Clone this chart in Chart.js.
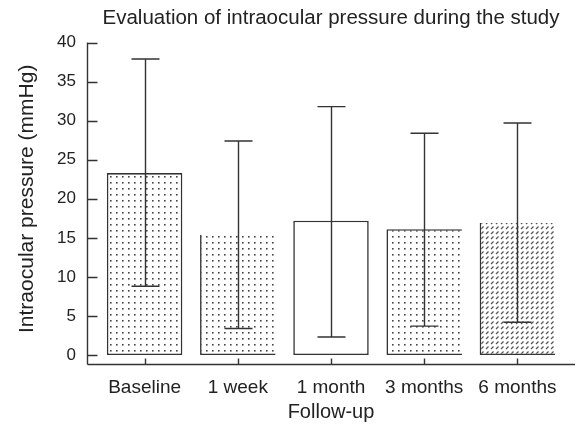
<!DOCTYPE html>
<html>
<head>
<meta charset="utf-8">
<script src="https://cdn.jsdelivr.net/npm/chart.js@4.4.0/dist/chart.umd.min.js"></script>
<style>
  html, body { margin: 0; padding: 0; background: #fff; }
  #wrap { width: 579px; height: 427px; }
</style>
</head>
<body>
<div id="wrap"><canvas id="chart" width="579" height="427"></canvas></div>
<script>
(function () {
  'use strict';

  // --- Data ---
  var categories = ['Baseline', '1 week', '1 month', '3 months', '6 months'];
  var means = [23.3, 15.4, 17.2, 16.1, 16.9];
  var errLow = [8.8, 3.4, 2.3, 3.7, 4.2];
  var errHigh = [37.9, 27.4, 31.8, 28.4, 29.7];
  var yTicks = [0, 5, 10, 15, 20, 25, 30, 35, 40];

  var ink = '#333';
  var font = "'Liberation Sans', Arial, sans-serif";

  // --- Fill patterns ---
  function dotPattern() {
    var c = document.createElement('canvas');
    c.width = 6; c.height = 6;
    var g = c.getContext('2d');
    g.fillStyle = '#fff';
    g.fillRect(0, 0, 6, 6);
    g.fillStyle = '#444';
    g.fillRect(2, 2, 1.6, 1.6);
    return g.createPattern(c, 'repeat');
  }

  function dashPattern() {
    var c = document.createElement('canvas');
    c.width = 5; c.height = 5;
    var g = c.getContext('2d');
    g.fillStyle = '#fff';
    g.fillRect(0, 0, 5, 5);
    g.strokeStyle = '#555';
    g.lineWidth = 1.2;
    g.beginPath();
    g.moveTo(1, 4);
    g.lineTo(3.5, 1.5);
    g.stroke();
    return g.createPattern(c, 'repeat');
  }

  var dots = dotPattern();
  var fills = [dots, dots, '#fff', dots, dashPattern()];
  var bw = 1.6;
  var borders = [
    { top: bw, right: bw, bottom: bw, left: bw },
    { top: 0, right: 0, bottom: bw, left: bw },
    { top: bw, right: bw, bottom: bw, left: bw },
    { top: bw, right: 0, bottom: bw, left: bw },
    { top: 0, right: 0, bottom: bw, left: bw }
  ];

  // --- Axes and error bars drawn from the scales ---
  var axisPlugin = {
    id: 'axesAndErrors',
    afterDatasetsDraw: function (chart) {
      var ctx = chart.ctx;
      var xs = chart.scales.x;
      var ys = chart.scales.y;
      var area = chart.chartArea;
      var axisX = area.left - 10.5;
      var axisY = area.bottom + 9.5;

      ctx.save();
      ctx.strokeStyle = ink;
      ctx.lineWidth = 1.4;

      // error bars
      var meta = chart.getDatasetMeta(0);
      meta.data.forEach(function (bar, i) {
        var x = Math.round(bar.x) + 0.5;
        var yl = ys.getPixelForValue(errLow[i]);
        var yh = ys.getPixelForValue(errHigh[i]);
        ctx.beginPath();
        ctx.moveTo(x, yl); ctx.lineTo(x, yh);
        ctx.moveTo(x - 14, yl); ctx.lineTo(x + 14, yl);
        ctx.moveTo(x - 14, yh); ctx.lineTo(x + 14, yh);
        ctx.stroke();
      });

      // y axis
      ctx.beginPath();
      ctx.moveTo(axisX, ys.getPixelForValue(40));
      ctx.lineTo(axisX, axisY);
      yTicks.forEach(function (v) {
        var y = Math.round(ys.getPixelForValue(v)) + 0.5;
        ctx.moveTo(axisX, y);
        ctx.lineTo(axisX + 10, y);
      });
      // x axis
      ctx.moveTo(axisX, axisY);
      ctx.lineTo(chart.width - 4, axisY);
      categories.forEach(function (c, i) {
        var x = Math.round(xs.getPixelForValue(i)) + 0.5;
        ctx.moveTo(x, axisY);
        ctx.lineTo(x, axisY - 6);
      });
      ctx.stroke();
      ctx.restore();
    }
  };

  var ctx = document.getElementById('chart').getContext('2d');
  new Chart(ctx, {
    type: 'bar',
    data: {
      labels: categories,
      datasets: [{
        label: 'IOP',
        data: means,
        backgroundColor: fills,
        borderColor: ink,
        borderWidth: borders,
        borderSkipped: false,
        categoryPercentage: 1,
        barPercentage: 0.81
      }]
    },
    plugins: [axisPlugin],
    options: {
      responsive: false,
      animation: false,
      devicePixelRatio: 1,
      layout: { padding: { left: 0, right: 15, top: 0, bottom: 0 } },
      plugins: {
        legend: { display: false },
        tooltip: { enabled: false },
        title: {
          display: true,
          fullSize: false,
          text: 'Evaluation of intraocular pressure during the study',
          color: '#222',
          font: { family: font, size: 20.5, weight: 'normal' },
          padding: { top: 6, bottom: 12 },
          align: 'center'
        }
      },
      scales: {
        x: {
          type: 'category',
          offset: true,
          grid: { display: false, drawTicks: false },
          border: { display: false },
          ticks: { color: '#222', font: { family: font, size: 19 }, padding: 21, maxRotation: 0 },
          title: {
            display: true,
            text: 'Follow-up',
            color: '#222',
            font: { family: font, size: 20 },
            padding: { top: 0, bottom: 3 }
          },
          afterFit: function (s) { s.height = 72; }
        },
        y: {
          min: 0,
          max: 40,
          afterBuildTicks: function (s) {
            s.ticks = yTicks.map(function (v) { return { value: v }; });
          },
          grid: { display: false, drawTicks: false },
          border: { display: false },
          ticks: { color: '#222', font: { family: font, size: 17 }, padding: 22 },
          title: {
            display: true,
            text: 'Intraocular pressure (mmHg)',
            color: '#222',
            font: { family: font, size: 21 },
            padding: { top: 15, bottom: 0 }
          },
          afterFit: function (s) { s.width = 98; }
        }
      }
    }
  });
})();
</script>
</body>
</html>
